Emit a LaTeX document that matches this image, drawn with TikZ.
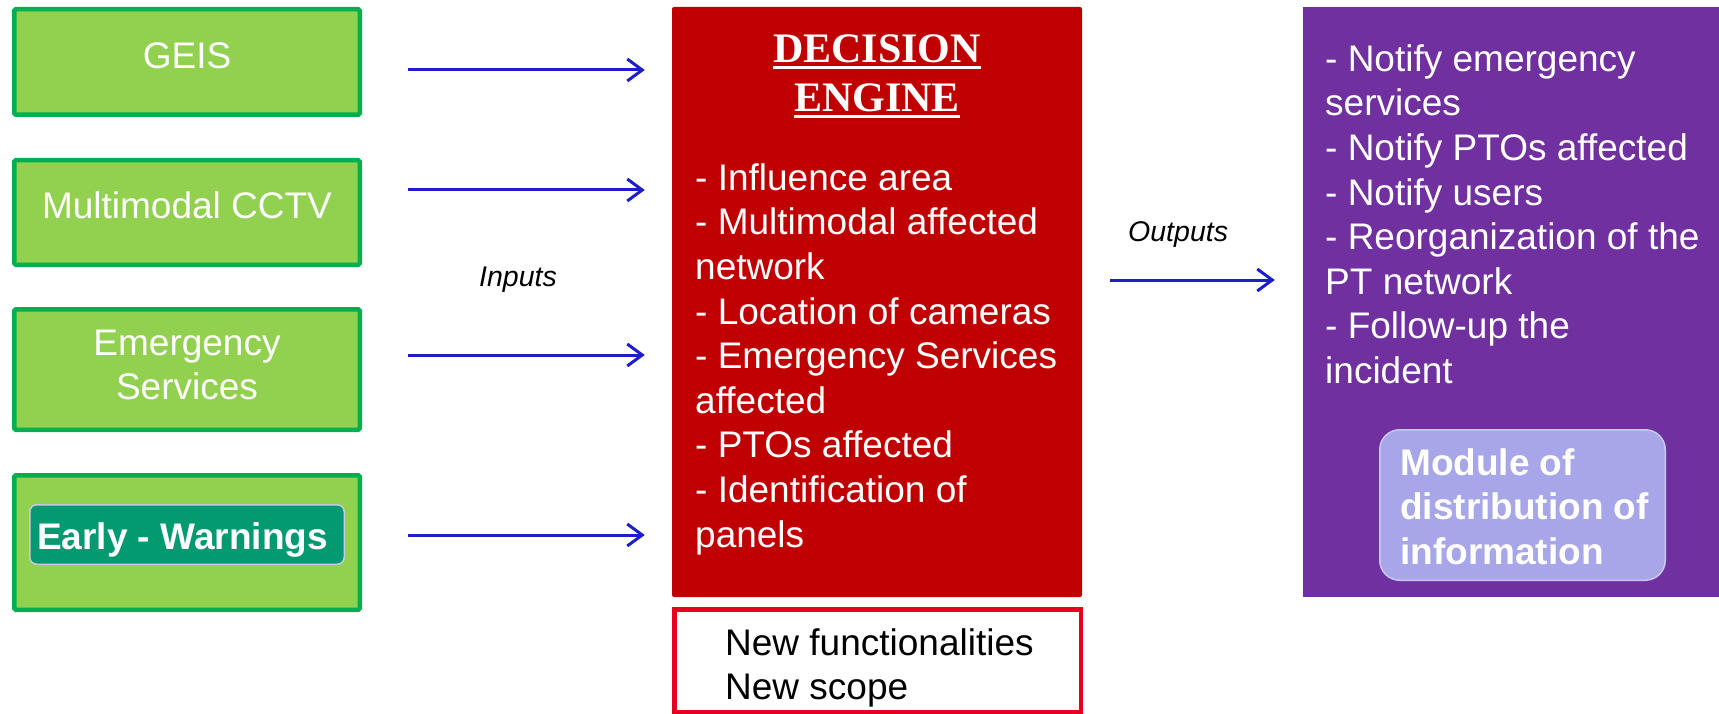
\documentclass[tikz,border=0pt]{standalone}
\usepackage{fontspec}
\setmainfont{Liberation Sans}
\newfontfamily\serifb{Liberation Serif}
\usetikzlibrary{arrows.meta}
\definecolor{gfill}{HTML}{92D050}
\definecolor{gborder}{HTML}{00B050}
\definecolor{decred}{HTML}{C00000}
\definecolor{newred}{HTML}{E6001E}
\definecolor{purp}{HTML}{7030A0}
\definecolor{modfill}{HTML}{A6A6E8}
\definecolor{modborder}{HTML}{C8C8F2}
\definecolor{teal}{HTML}{039A72}
\definecolor{tealborder}{HTML}{C8C8E6}
\definecolor{arrblue}{RGB}{30,30,200}
\newcommand\bodyfont{\fontsize{37}{44.6}\selectfont}
\newcommand\lblfont{\fontsize{28.5}{34}\selectfont\itshape}
\newcommand\ttlfont{\fontsize{42}{49}\selectfont\serifb\bfseries}
\newcommand\fl{\rule{0pt}{30pt}}
\tikzset{
  gbox/.style={draw=gborder, fill=gfill, line width=4.5pt, inner sep=0pt, rounded corners=1.5pt},
  gtext/.style={font=\bodyfont, text=white, inner sep=0pt},
  btext/.style={font=\bodyfont, text=white, inner sep=0pt, align=left, anchor=north west},
  bboldtext/.style={font=\bodyfont\bfseries, text=white, inner sep=0pt, align=left},
  ttext/.style={font=\ttlfont, text=white, inner sep=0pt, anchor=base},
  lbl/.style={font=\lblfont, text=black, inner sep=0pt, anchor=base west},
  arr/.style={draw=arrblue, line width=3pt, -{Straight Barb[length=15pt,width=22pt]}},
  uline/.style={draw=white, line width=2.2pt}
}
\begin{document}
\begin{tikzpicture}[x=1pt,y=-1pt]
\useasboundingbox (0,0) rectangle (1719,714);
% input boxes
\node[gbox, minimum width=345.5pt, minimum height=105.5pt] (geis) at (187,62) {};
\node[gtext, anchor=base] (geist) at (187,69) {GEIS};
\node[gbox, minimum width=345.5pt, minimum height=104.5pt] (cctv) at (187,212.5) {};
\node[gtext, anchor=base] (cctvt) at (187,219) {Multimodal CCTV};
\node[gbox, minimum width=345.5pt, minimum height=120.5pt] (emerg) at (187,369.5) {};
\node[gtext, align=center, anchor=north] (emergt) at (187,325) {\fl Emergency\\Services};
\node[gbox, minimum width=345.5pt, minimum height=134.5pt] (early) at (187,542.5) {};
\node[draw=tealborder, fill=teal, line width=1.5pt, rounded corners=7pt, inner sep=0pt,
      minimum width=314.5pt, minimum height=59.5pt] (earlyin) at (187,534.5) {};
\node[gtext, font=\bodyfont\bfseries, anchor=base west] (earlyt) at (37,549) {Early - Warnings};
% decision engine
\node[fill=decred, rounded corners=2pt, inner sep=0pt, minimum width=410pt, minimum height=590pt] (dec) at (877,302) {};
\node[ttext] (t1) at (877,63) {DECISION};
\node[ttext] (t2) at (877,112) {ENGINE};
\draw[uline] ([yshift=-4.5pt]t1.base west) -- ([yshift=-4.5pt]t1.base east);
\draw[uline] ([yshift=-4.5pt]t2.base west) -- ([yshift=-4.5pt]t2.base east);
\node[btext] (decbody) at (695,160) {\fl- Influence area\\- Multimodal affected\\network\\- Location of cameras\\- Emergency Services\\affected\\- PTOs affected\\- Identification of\\panels};
% new functionalities
\node[draw=newred, fill=white, line width=4.5pt, inner sep=0pt, minimum width=406.5pt, minimum height=102.5pt] (newb) at (877.5,660.5) {};
\node[btext, text=black] (newt) at (725,625) {\fl New functionalities\\New scope};
% outputs box
\node[fill=purp, inner sep=0pt, minimum width=422pt, minimum height=590pt] (pur) at (1514,302) {};
\node[btext] (purt) at (1325,41) {\fl- Notify emergency\\services\\- Notify PTOs affected\\- Notify users\\- Reorganization of the\\PT network\\- Follow-up the\\incident};
\node[draw=modborder, fill=modfill, line width=1.5pt, rounded corners=20pt, inner sep=0pt,
      minimum width=285.5pt, minimum height=150.5pt] (mod) at (1522.5,505) {};
\node[bboldtext, anchor=north west] (modt) at (1400,445) {\fl Module of\\distribution of\\information};
% labels
\node[lbl] (inputs) at (479,287) {Inputs};
\node[lbl] (outputs) at (1128,242) {Outputs};
% arrows
\draw[arr, shorten <=46pt, shorten >=27pt] (geis.east |- 0,70) -- (dec.west |- 0,70);
\draw[arr, shorten <=46pt, shorten >=27pt] (cctv.east |- 0,190) -- (dec.west |- 0,190);
\draw[arr, shorten <=46pt, shorten >=27pt] (emerg.east |- 0,355) -- (dec.west |- 0,355);
\draw[arr, shorten <=46pt, shorten >=27pt] (early.east |- 0,535) -- (dec.west |- 0,535);
\draw[arr, shorten <=28pt, shorten >=28pt] (dec.east |- 0,280) -- (pur.west |- 0,280);
\end{tikzpicture}
\end{document}
